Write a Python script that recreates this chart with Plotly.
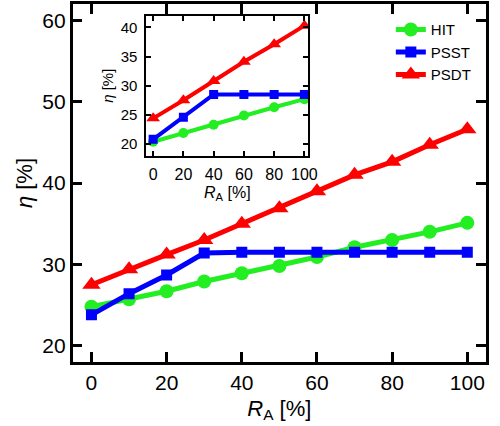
import plotly.graph_objects as go

# Main panel: efficiency vs. R_A
ra_main = [0, 10, 20, 30, 40, 50, 60, 70, 80, 90, 100]
hit_main = [24.8, 25.7, 26.7, 27.9, 28.9, 29.8, 30.9, 32.1, 33.0, 34.0, 35.1]
psst_main = [23.8, 26.4, 28.7, 31.4, 31.5, 31.5, 31.5, 31.5, 31.5, 31.5, 31.5]
psdt_main = [27.5, 29.4, 31.2, 33.0, 35.0, 36.9, 39.0, 41.0, 42.6, 44.7, 46.6]

# Inset panel
ra_inset = [0, 20, 40, 60, 80, 100]
hit_inset = [20.4, 21.9, 23.3, 24.9, 26.3, 27.7]
psst_inset = [20.8, 24.6, 28.5, 28.5, 28.5, 28.5]
psdt_inset = [24.4, 27.5, 30.8, 34.1, 37.1, 40.3]

names = ["HIT", "PSST", "PSDT"]
colors = ["#22ee22", "#0000ff", "#ff0000"]
symbols = ["circle", "square", "triangle-up"]
main_sizes = [14, 11, 16]
inset_sizes = [10, 9, 12]

FONT = "Liberation Sans, Arial, sans-serif"

fig = go.Figure()

for name, ys, col, sym, sz in zip(names, [hit_main, psst_main, psdt_main], colors, symbols, main_sizes):
    fig.add_trace(go.Scatter(
        x=ra_main, y=ys, name=name, mode="lines+markers",
        line=dict(color=col, width=5),
        marker=dict(symbol=sym, size=sz, color=col, line=dict(width=0)),
        xaxis="x", yaxis="y",
    ))

for name, ys, col, sym, sz in zip(names, [hit_inset, psst_inset, psdt_inset], colors, symbols, inset_sizes):
    fig.add_trace(go.Scatter(
        x=ra_inset, y=ys, name=name, mode="lines+markers", showlegend=False,
        line=dict(color=col, width=4),
        marker=dict(symbol=sym, size=sz, color=col, line=dict(width=0)),
        xaxis="x2", yaxis="y2",
    ))

axis_common = dict(showline=True, linecolor="black", mirror="ticks", ticks="inside",
                   tickcolor="black", showgrid=False, zeroline=False)

fig.update_layout(
    width=500, height=426,
    margin=dict(l=0, r=0, t=0, b=0),
    paper_bgcolor="white", plot_bgcolor="white",
    font=dict(family=FONT, color="black"),
    xaxis=dict(**axis_common, domain=[0.148, 0.99], range=[-5, 105],
               tickvals=[0, 20, 40, 60, 80, 100], linewidth=2.5, tickwidth=2.5, ticklen=10,
               tickfont=dict(size=21), ticklabelstandoff=0,
               title=dict(text="<i>R</i><sub>A</sub> [%]", font=dict(size=22), standoff=8)),
    yaxis=dict(**axis_common, domain=[0.1502, 0.9906], range=[18, 62],
               tickvals=[20, 30, 40, 50, 60], linewidth=2.5, tickwidth=2.5, ticklen=10,
               tickfont=dict(size=21), ticklabelstandoff=0,
               title=dict(text="<i>η</i> [%]", font=dict(size=22), standoff=4)),
    xaxis2=dict(**axis_common, domain=[0.298, 0.628], range=[-4.5, 102.6], anchor="y2",
                tickvals=[0, 20, 40, 60, 80, 100], linewidth=2, tickwidth=1.5, ticklen=5,
                tickfont=dict(size=16), ticklabelstandoff=3,
                title=dict(text="<i>R</i><sub>A</sub> [%]", font=dict(size=16), standoff=5)),
    yaxis2=dict(**axis_common, domain=[0.6345, 0.9631], range=[18, 42], anchor="x2",
                tickvals=[20, 25, 30, 35, 40], linewidth=2, tickwidth=1.5, ticklen=5,
                tickfont=dict(size=15), ticklabelstandoff=4,
                title=dict(text="<i>η</i> [%]", font=dict(size=15), standoff=3)),
    legend=dict(x=0.796, y=0.969, xanchor="left", yanchor="top",
                bgcolor="rgba(0,0,0,0)", font=dict(size=15), tracegroupgap=0,
                itemwidth=30),
)

fig.write_html("out.html")
